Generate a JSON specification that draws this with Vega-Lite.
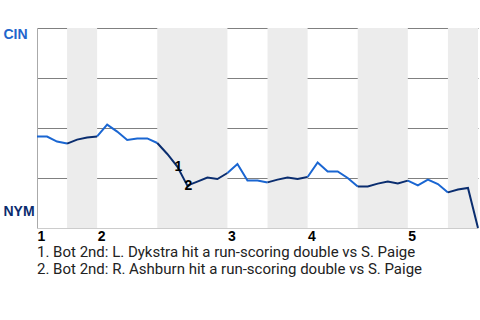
{
  "$schema": "https://vega.github.io/schema/vega-lite/v6.json",
  "autosize": {"type": "none"},
  "width": 441,
  "height": 200,
  "padding": {"left": 37, "top": 28, "right": 2, "bottom": 92},
  "config": {"view": {"stroke": null}, "font": "Liberation Sans"},
  "title": {
    "text": ["1. Bot 2nd: L. Dykstra hit a run-scoring double vs S. Paige", "2. Bot 2nd: R. Ashburn hit a run-scoring double vs S. Paige"],
    "orient": "bottom",
    "anchor": "start",
    "frame": "group",
    "font": "Roboto",
    "fontSize": 15,
    "fontWeight": "normal",
    "color": "#222222",
    "lineHeight": 17,
    "offset": 2
  },
  "layer": [
    {
      "data": {"values": [
        {"s": 3, "e": 6}, {"s": 12, "e": 19}, {"s": 23, "e": 27}, {"s": 32, "e": 37}, {"s": 41, "e": 44}
      ]},
      "mark": {"type": "rect", "color": "#ececec"},
      "encoding": {
        "x": {"field": "s", "type": "quantitative", "scale": {"domain": [0, 44], "nice": false, "zero": false},
          "axis": {
            "values": [0, 6, 19, 27, 37],
            "labelExpr": "datum.value == 0 ? '1' : datum.value == 6 ? '2' : datum.value == 19 ? '3' : datum.value == 27 ? '4' : '5'",
            "title": null, "grid": false, "ticks": false, "domainColor": "#cccccc",
            "labelAlign": "left", "labelBaseline": "top", "labelFlush": false, "labelPadding": 1,
            "labelFont": "Liberation Sans", "labelFontSize": 14, "labelFontWeight": "bold", "labelColor": "#000000"
          }},
        "x2": {"field": "e"}
      }
    },
    {
      "data": {"values": [
        {"h": 0, "team": "CIN", "i": 0, "p": 45.7}, {"h": 0, "team": "CIN", "i": 1, "p": 45.7}, {"h": 0, "team": "CIN", "i": 2, "p": 43.2}, {"h": 0, "team": "CIN", "i": 3, "p": 42.2},
        {"h": 1, "team": "NYM", "i": 3, "p": 42.2}, {"h": 1, "team": "NYM", "i": 4, "p": 44.2}, {"h": 1, "team": "NYM", "i": 5, "p": 45.2}, {"h": 1, "team": "NYM", "i": 6, "p": 45.8},
        {"h": 2, "team": "CIN", "i": 6, "p": 45.8}, {"h": 2, "team": "CIN", "i": 7, "p": 51.7}, {"h": 2, "team": "CIN", "i": 8, "p": 48.2}, {"h": 2, "team": "CIN", "i": 9, "p": 44.0}, {"h": 2, "team": "CIN", "i": 10, "p": 44.8}, {"h": 2, "team": "CIN", "i": 11, "p": 44.8}, {"h": 2, "team": "CIN", "i": 12, "p": 42.5},
        {"h": 3, "team": "NYM", "i": 12, "p": 42.5}, {"h": 3, "team": "NYM", "i": 13, "p": 37.0}, {"h": 3, "team": "NYM", "i": 14, "p": 30.7}, {"h": 3, "team": "NYM", "i": 15, "p": 21.2}, {"h": 3, "team": "NYM", "i": 16, "p": 23.2}, {"h": 3, "team": "NYM", "i": 17, "p": 25.2}, {"h": 3, "team": "NYM", "i": 18, "p": 24.5}, {"h": 3, "team": "NYM", "i": 19, "p": 27.5},
        {"h": 4, "team": "CIN", "i": 19, "p": 27.5}, {"h": 4, "team": "CIN", "i": 20, "p": 32.0}, {"h": 4, "team": "CIN", "i": 21, "p": 23.8}, {"h": 4, "team": "CIN", "i": 22, "p": 23.7}, {"h": 4, "team": "CIN", "i": 23, "p": 22.8},
        {"h": 5, "team": "NYM", "i": 23, "p": 22.8}, {"h": 5, "team": "NYM", "i": 24, "p": 24.2}, {"h": 5, "team": "NYM", "i": 25, "p": 25.2}, {"h": 5, "team": "NYM", "i": 26, "p": 24.5}, {"h": 5, "team": "NYM", "i": 27, "p": 25.5},
        {"h": 6, "team": "CIN", "i": 27, "p": 25.5}, {"h": 6, "team": "CIN", "i": 28, "p": 32.8}, {"h": 6, "team": "CIN", "i": 29, "p": 28.3}, {"h": 6, "team": "CIN", "i": 30, "p": 28.3}, {"h": 6, "team": "CIN", "i": 31, "p": 25.0}, {"h": 6, "team": "CIN", "i": 32, "p": 20.8},
        {"h": 7, "team": "NYM", "i": 32, "p": 20.8}, {"h": 7, "team": "NYM", "i": 33, "p": 20.8}, {"h": 7, "team": "NYM", "i": 34, "p": 22.2}, {"h": 7, "team": "NYM", "i": 35, "p": 23.2}, {"h": 7, "team": "NYM", "i": 36, "p": 22.3}, {"h": 7, "team": "NYM", "i": 37, "p": 23.7},
        {"h": 8, "team": "CIN", "i": 37, "p": 23.7}, {"h": 8, "team": "CIN", "i": 38, "p": 21.3}, {"h": 8, "team": "CIN", "i": 39, "p": 24.2}, {"h": 8, "team": "CIN", "i": 40, "p": 22.0}, {"h": 8, "team": "CIN", "i": 41, "p": 17.8},
        {"h": 9, "team": "NYM", "i": 41, "p": 17.8}, {"h": 9, "team": "NYM", "i": 42, "p": 19.2}, {"h": 9, "team": "NYM", "i": 43, "p": 20.0}, {"h": 9, "team": "NYM", "i": 44, "p": 0}
      ]},
      "mark": {"type": "line", "strokeWidth": 2},
      "encoding": {
        "x": {"field": "i", "type": "quantitative"},
        "y": {"field": "p", "type": "quantitative", "scale": {"domain": [0, 100], "nice": false, "zero": false},
          "axis": {
            "values": [0, 25, 50, 75, 100],
            "labelExpr": "datum.value == 100 ? 'CIN' : datum.value == 0 ? 'NYM' : ''",
            "title": null, "ticks": false, "domainColor": "#aaaaaa",
            "gridColor": {"condition": {"test": "datum.value == 0", "value": "transparent"}, "value": "#808080"},
            "labelAlign": "left", "labelBaseline": "middle", "labelPadding": 34,
            "labelOffset": {"condition": {"test": "datum.value == 100", "value": 6}, "value": -17},
            "labelColor": {"condition": {"test": "datum.value == 100", "value": "#1f66cc"}, "value": "#0b2c6e"},
            "labelFont": "Liberation Sans", "labelFontSize": 14, "labelFontWeight": "bold"
          }},
        "detail": {"field": "h"},
        "color": {"field": "team", "type": "nominal", "scale": {"domain": ["CIN", "NYM"], "range": ["#1a66d2", "#0a2d6f"]}, "legend": null}
      }
    },
    {
      "data": {"values": [
        {"i": 14, "p": 30.7, "label": "1"},
        {"i": 15, "p": 21.2, "label": "2"}
      ]},
      "mark": {"type": "text", "font": "Liberation Sans", "fontSize": 14, "fontWeight": "bold", "color": "#000000", "dx": 1, "baseline": "middle", "align": "center"},
      "encoding": {
        "x": {"field": "i", "type": "quantitative"},
        "y": {"field": "p", "type": "quantitative"},
        "text": {"field": "label"}
      }
    }
  ]
}
